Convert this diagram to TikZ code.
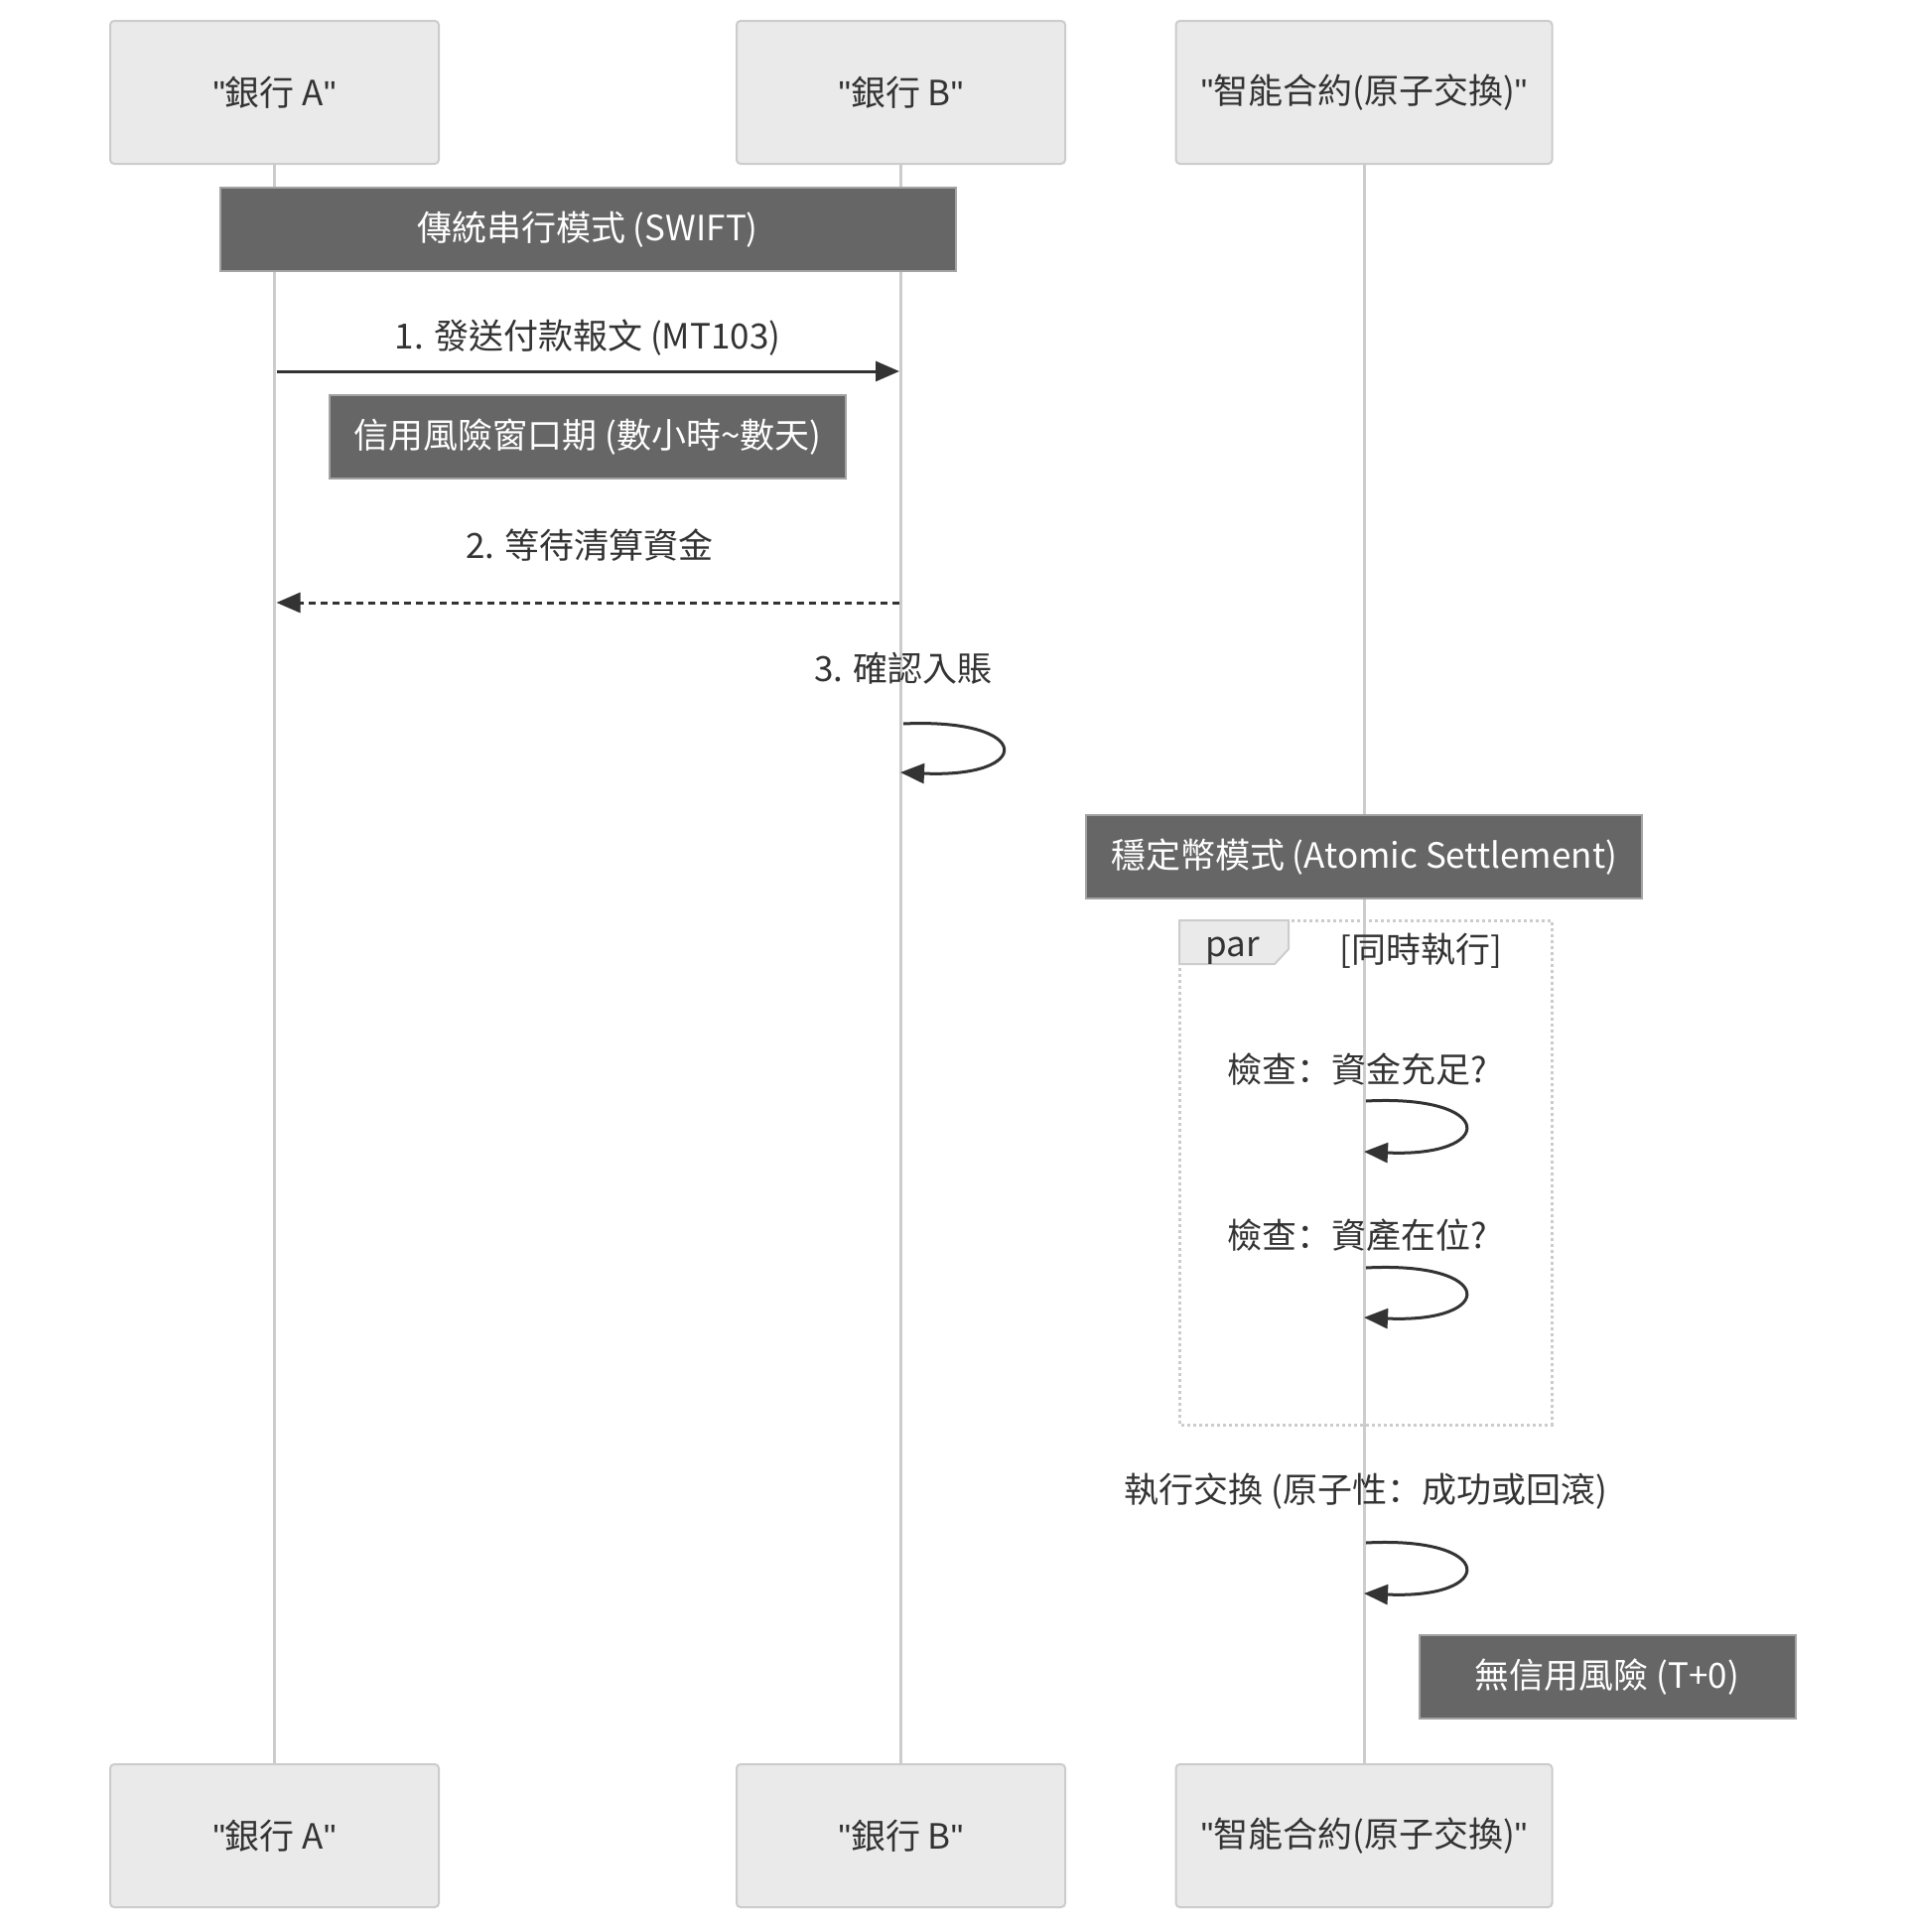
\documentclass[tikz,border=0pt]{standalone}
\usepackage{fontspec}
\setmainfont{Noto Sans CJK TC}
\newfontfamily\latfont{Liberation Sans}
\newfontfamily\scfont{Noto Sans CJK SC}
\newcommand{\qq}{{\latfont"}}
\newcommand{\cjkcolon}{{\scfont ：}}
\usetikzlibrary{arrows.meta}
\definecolor{actfill}{HTML}{EAEAEA}
\definecolor{actline}{HTML}{CCCCCC}
\definecolor{notefill}{HTML}{666666}
\definecolor{ink}{HTML}{333333}
\tikzset{
  txt/.style={font=\fontsize{35}{42}\selectfont},
  actor/.style={draw=actline,line width=2pt,fill=actfill,rounded corners=4pt,minimum width=331pt,minimum height=144pt,txt,text=ink},
  actorwide/.style={actor,minimum width=379pt},
  life/.style={draw=actline,line width=3pt},
  notebox/.style={draw=actline!80!black,line width=2pt,fill=notefill,text=white,txt,minimum height=84pt,inner sep=0pt},
  msg/.style={txt,text=ink},
  arr/.style={draw=ink,line width=3pt,-{Triangle[length=24pt,width=20pt]}},
  darr/.style={arr,dash pattern=on 7pt off 5pt},
  parbox/.style={draw=actline,line width=3pt,dash pattern=on 3pt off 3pt},
}
\begin{document}
\begin{tikzpicture}[x=1pt,y=-1pt]
\useasboundingbox (0,0) rectangle (1920,1946);
% participants
\node[actor] (at) at (276.5,93) {\qq 銀行 A\qq};
\node[actor] (bt) at (907.5,93) {\qq 銀行 B\qq};
\node[actorwide] (ct) at (1374,93) {\qq 智能合約(原子交換)\qq};
\node[actor] (ab) at (276.5,1849) {\qq 銀行 A\qq};
\node[actor] (bb) at (907.5,1849) {\qq 銀行 B\qq};
\node[actorwide] (cb) at (1374,1849) {\qq 智能合約(原子交換)\qq};
% lifelines
\draw[life] (at.south) -- (ab.north);
\draw[life] (bt.south) -- (bb.north);
\draw[life] (ct.south) -- (cb.north);
% notes
\node[notebox,minimum width=741pt] (n1) at (592,231) {傳統串行模式 (SWIFT)};
\coordinate (a1) at (278.5,374);
\coordinate (b1) at (906,374);
\node[msg] (m1) at (592,340) {1. 發送付款報文 (MT103)};
\draw[arr] (a1) -- (b1);
\node[notebox,minimum width=520pt] (n2) at (592,440) {信用風險窗口期 (數小時\textasciitilde 數天)};
\node[msg] (m2) at (594,549) {2. 等待清算資金};
\coordinate (b2) at (906,607);
\coordinate (a2) at (278.5,607);
\draw[darr] (b2) -- (a2);
\node[msg] (m3) at (910,673) {3. 確認入賬};
\coordinate (s3) at (910,729);
\coordinate (e3) at (907,778);
\draw[arr] (s3) .. controls (1042,723) and (1042,784) .. (e3);
\node[notebox,minimum width=560pt] (n3) at (1374,863) {穩定幣模式 (Atomic Settlement)};
% par block
\draw[parbox] (1188,927) rectangle (1563,1435);
\draw[draw=actline,line width=2pt,fill=actfill] (1188,927) -- (1298,927) -- (1298,956) -- (1284,971) -- (1188,971) -- cycle;
\node[msg] (pl) at (1242,958) {par};
\node[msg] (pt) at (1431,958) {[同時執行]};
\node[msg] (c1) at (1367,1077) {檢查\cjkcolon 資金充足?};
\coordinate (s4) at (1376,1109);
\coordinate (e4) at (1374,1160);
\draw[arr] (s4) .. controls (1508,1102) and (1508,1166) .. (e4);
\node[msg] (c2) at (1367,1244) {檢查\cjkcolon 資產在位?};
\coordinate (s5) at (1376,1277);
\coordinate (e5) at (1374,1327);
\draw[arr] (s5) .. controls (1508,1270) and (1508,1333) .. (e5);
\node[msg] (c3) at (1376,1502) {執行交換 (原子性\cjkcolon 成功或回滾)};
\coordinate (s6) at (1376,1554);
\coordinate (e6) at (1374,1605);
\draw[arr] (s6) .. controls (1508,1547) and (1508,1611) .. (e6);
\node[notebox,minimum width=379pt] (n4) at (1619,1689) {無信用風險 (T+0)};
\end{tikzpicture}
\end{document}
